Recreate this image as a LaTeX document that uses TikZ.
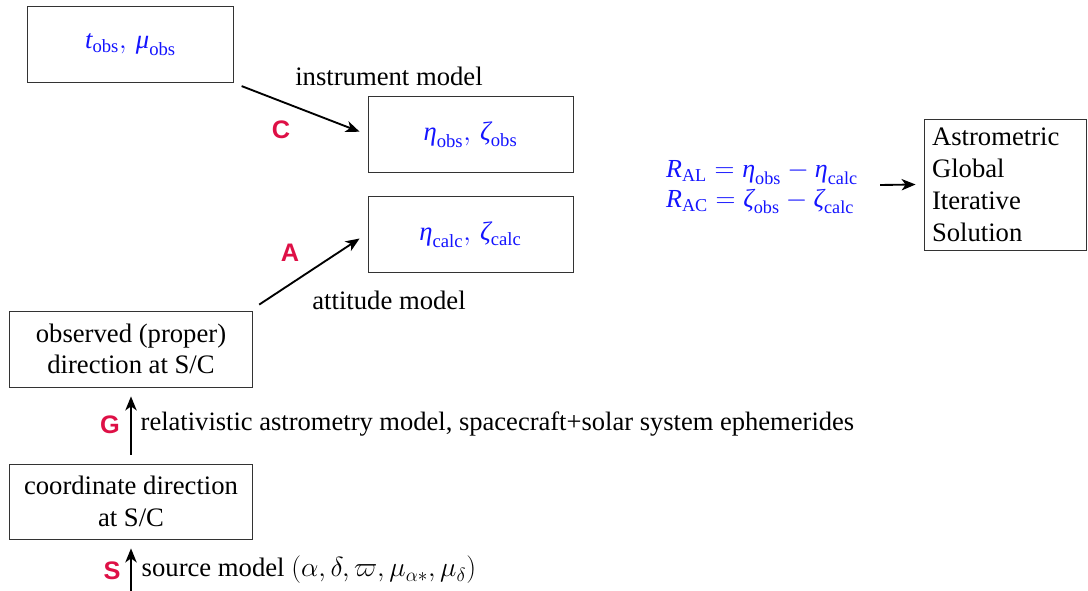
\documentclass[tikz,border=0pt]{standalone}
\usepackage{fontspec}
\setmainfont{Liberation Serif}
\newfontfamily\labelfont{Liberation Sans}
\usetikzlibrary{calc,arrows.meta}
\definecolor{tagred}{RGB}{222,16,70}
\definecolor{qblue}{RGB}{20,20,255}
% italic letter in the main (Times-like) font, usable inside math
\newcommand{\ti}[1]{\mbox{\itshape #1}}
\begin{document}
\begin{tikzpicture}[x=0.75pt,y=-0.75pt,
  every node/.style={font=\fontsize{20}{23.5}\selectfont},
  qbox/.style={draw=black!80,line width=0.6pt,inner sep=0pt,align=center},
  qty/.style={text=qblue},
  tag/.style={text=tagred,font=\fontsize{19}{22}\selectfont\labelfont\bfseries},
  flow/.style={draw=black,line width=1.4pt,-{Stealth[length=10.5pt,width=8.5pt,inset=3pt]}}]
\useasboundingbox (0,0) rectangle (1088,591);

% boxes
\node[qbox,qty,minimum width=205.5*0.75pt,minimum height=76*0.75pt] (tobs) at (130.5,44.7)
  {$\ti{t}_{\mathrm{obs}},\,\ti{μ}_{\mathrm{obs}}$};
\node[qbox,qty,minimum width=205*0.75pt,minimum height=76*0.75pt] (eobs) at (470.5,134.7)
  {$\ti{η}_{\mathrm{obs}},\,\ti{ζ}_{\mathrm{obs}}$};
\node[qbox,qty,minimum width=205*0.75pt,minimum height=75.6*0.75pt] (ecalc) at (470.5,234.5)
  {$\ti{η}_{\mathrm{calc}},\,\ti{ζ}_{\mathrm{calc}}$};
\node[qbox,minimum width=243.6*0.75pt,minimum height=76*0.75pt] (obsdir) at (131,349)
  {observed (proper)\\direction at S/C};
\node[qbox,minimum width=243.6*0.75pt,minimum height=75*0.75pt] (coord) at (131,501.5)
  {coordinate direction\\at S/C};
\node[qbox,minimum width=162*0.75pt,minimum height=131*0.75pt,align=left,
  text width=146*0.75pt,font=\fontsize{20}{24}\selectfont] (agis) at (1005,184.5)
  {Astrometric\\Global\\Iterative\\Solution};

% residuals
\node[qty,align=left,inner sep=0pt,font=\fontsize{19.5}{22.5}\selectfont] (resid) at (762,187)
  {$\ti{R}_{\mathrm{AL}}=\ti{η}_{\mathrm{obs}}-\ti{η}_{\mathrm{calc}}$\\
   $\ti{R}_{\mathrm{AC}}=\ti{ζ}_{\mathrm{obs}}-\ti{ζ}_{\mathrm{calc}}$};

% model labels
\node (instr) at (389,76) {instrument model};
\node (att) at (389,300) {attitude model};
\node[anchor=west,font=\fontsize{19.9}{23}\selectfont] (grlab) at (136,424) {relativistic astrometry model, spacecraft+solar system ephemerides};
\node[anchor=west] (srclab) at (137,570) {source model $(\alpha,\delta,\varpi,\mu_{\alpha*},\mu_{\delta})$};

% step tags
\node[tag] (tC) at (281,130) {C};
\node[tag] (tA) at (290,253) {A};
\node[tag] (tG) at (110,425) {G};
\node[tag] (tS) at (112,571) {S};

% connectors
\coordinate (src) at (131,591);
\draw[flow] ($(tobs.south east)+(8,3)$) -- ($(eobs.west)+(-8,-3)$);
\draw[flow] ($(obsdir.north east)+(6,-6)$) -- ($(ecalc.west)+(-8,4)$);
\draw[flow,shorten <=9*0.75pt,shorten >=9*0.75pt] (coord.north) -- (obsdir.south);
\draw[flow,shorten >=9*0.75pt] (src) -- (coord.south);
\draw[flow] ($(resid.east)+(22,-2)$) -- ($(agis.west)+(-8,0)$);
\end{tikzpicture}
\end{document}
